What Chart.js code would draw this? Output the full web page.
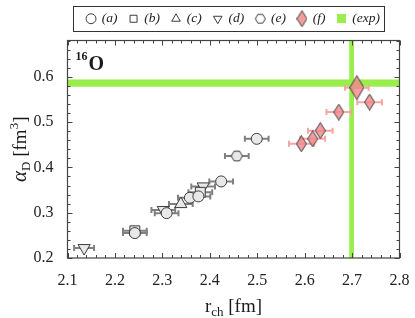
<!DOCTYPE html>
<html>
<head>
<meta charset="utf-8">
<script src="https://cdn.jsdelivr.net/npm/chart.js@4.4.1/dist/chart.umd.min.js"></script>
<style>
  html, body { margin: 0; padding: 0; background: #fff; }
  #wrap { width: 415px; height: 318px; }
</style>
</head>
<body>
<div id="wrap"><canvas id="chart" width="415" height="318"></canvas></div>
<script>
// values (r_ch in fm, alpha_D in fm^3)
const aR = [2.242, 2.309, 2.358, 2.376, 2.424, 2.499];
const aAlpha = [0.255, 0.299, 0.333, 0.336, 0.369, 0.463];
const aErr = [0.025, 0.025, 0.025, 0.025, 0.025, 0.025];

const bR = [2.242, 2.380];
const bAlpha = [0.260, 0.345];
const bErr = [0.025, 0.025];

const cR = [2.339];
const cAlpha = [0.319];
const cErr = [0.025];

const dR = [2.135, 2.302, 2.386];
const dAlpha = [0.222, 0.306, 0.358];
const dErr = [0.021, 0.025, 0.025];

const eR = [2.457];
const eAlpha = [0.425];
const eErr = [0.025];

const fR = [2.593, 2.617, 2.633, 2.672, 2.710, 2.737];
const fAlpha = [0.452, 0.463, 0.481, 0.522, 0.576, 0.544];
const fErr = [0.026, 0.026, 0.026, 0.026, 0.025, 0.026];

// experiment: value and half width of the band
const expR = [2.699];
const expRErr = [0.005];
const expAlpha = [0.586];
const expAlphaErr = [0.008];

const xTicks = [2.1, 2.2, 2.3, 2.4, 2.5, 2.6, 2.7, 2.8];
const yTicks = [0.2, 0.3, 0.4, 0.5, 0.6];

const seriesLabels = ['(a)', '(b)', '(c)', '(d)', '(e)', '(f)', '(exp)'];

const GREY_FILL = '#e8e8e8';
const EDGE = '#3c3c3c';
const GREY_BAR = '#808080';
const PINK_BAR = '#f6a4a4';
const GREEN = '#99ee4c';
const SERIF = "'Liberation Serif', 'DejaVu Serif', serif";

function toPoints(xs, ys) {
    return xs.map((x, i) => ({x: x, y: ys[i]}));
}

// small canvases used as point styles
function makeMarker(w, h, draw) {
    const c = document.createElement('canvas');
    c.width = w;
    c.height = h;
    draw(c.getContext('2d'), w, h);
    return c;
}

function diamond(w, h) {
    return makeMarker(w, h, (g, W, H) => {
        g.beginPath();
        g.moveTo(W / 2, 0.5);
        g.lineTo(W - 0.5, H / 2);
        g.lineTo(W / 2, H - 0.5);
        g.lineTo(0.5, H / 2);
        g.closePath();
        g.fillStyle = 'rgba(240,135,135,0.8)';
        g.fill();
        g.strokeStyle = EDGE;
        g.lineWidth = 1;
        g.stroke();
    });
}

function hexagon(fill, r) {
    return makeMarker(13, 12, (g, W, H) => {
        const cx = W / 2, cy = H / 2;
        g.beginPath();
        for (let k = 0; k < 6; k++) {
            const ang = Math.PI / 3 * k;
            const px = cx + r * Math.cos(ang), py = cy + r * Math.sin(ang);
            if (k === 0) g.moveTo(px, py); else g.lineTo(px, py);
        }
        g.closePath();
        g.fillStyle = fill;
        g.fill();
        g.strokeStyle = EDGE;
        g.lineWidth = 1;
        g.stroke();
    });
}

const smallDiamond = diamond(11, 17);
const bigDiamond = diamond(15, 25);
const hexMarker = hexagon(GREY_FILL, 5.6);
const hexLegend = hexagon('#ffffff', 5);

const greenSquare = makeMarker(9, 9, (g, W, H) => {
    g.fillStyle = GREEN;
    g.fillRect(0, 0, W, H);
});

function greySeries(label, xs, ys, errs, style, radius, rotation) {
    return {
        label: label,
        data: toPoints(xs, ys),
        xErr: errs,
        errColor: GREY_BAR,
        pointStyle: style,
        pointRadius: radius,
        pointRotation: rotation || 0,
        backgroundColor: GREY_FILL,
        borderColor: EDGE,
        borderWidth: 1
    };
}

const datasets = [
    greySeries(seriesLabels[0], aR, aAlpha, aErr, 'circle', 5.5),
    greySeries(seriesLabels[1], bR, bAlpha, bErr, 'rect', 7),
    greySeries(seriesLabels[2], cR, cAlpha, cErr, 'triangle', 7),
    greySeries(seriesLabels[3], dR, dAlpha, dErr, 'triangle', 7, 180),
    greySeries(seriesLabels[4], eR, eAlpha, eErr, hexMarker, 6),
    {
        label: seriesLabels[5],
        data: toPoints(fR, fAlpha),
        xErr: fErr,
        errColor: PINK_BAR,
        pointStyle: fR.map((r, i) => i === 4 ? bigDiamond : smallDiamond),
        backgroundColor: 'rgba(240,135,135,0.8)',
        borderColor: EDGE,
        borderWidth: 1
    },
    {
        label: seriesLabels[6],
        data: [],
        pointStyle: greenSquare,
        backgroundColor: GREEN,
        borderColor: GREEN
    }
];

function drawTicks(ctx, a, x, y) {
    ctx.strokeStyle = '#444';
    ctx.lineWidth = 1;
    ctx.beginPath();
    // x ticks, every 0.02, long ones on the labels
    for (let i = 0; i <= 35; i++) {
        const v = xTicks[0] + i * 0.02;
        const px = Math.round(x.getPixelForValue(v)) + 0.5;
        const len = i % 5 === 0 ? 5 : 3;
        ctx.moveTo(px, a.bottom); ctx.lineTo(px, a.bottom - len);
        ctx.moveTo(px, a.top); ctx.lineTo(px, a.top + len);
    }
    for (let i = 0; i <= 24; i++) {
        const v = yTicks[0] + i * 0.02;
        const py = Math.round(y.getPixelForValue(v)) + 0.5;
        const len = i % 5 === 0 ? 5 : 3;
        ctx.moveTo(a.left, py); ctx.lineTo(a.left + len, py);
        ctx.moveTo(a.right, py); ctx.lineTo(a.right - len, py);
    }
    ctx.stroke();
}

// pieces of text with sub/superscripts: [text, font, dy]
function drawPieces(ctx, pieces, cx, baseline) {
    let total = 0;
    pieces.forEach(p => { ctx.font = p[1]; total += ctx.measureText(p[0]).width; });
    let cur = cx - total / 2;
    ctx.textAlign = 'left';
    ctx.textBaseline = 'alphabetic';
    pieces.forEach(p => {
        ctx.font = p[1];
        ctx.fillText(p[0], cur, baseline + p[2]);
        cur += ctx.measureText(p[0]).width;
    });
}

const decorations = {
    id: 'decorations',
    beforeDatasetsDraw(chart) {
        const {ctx, chartArea: a, scales: {x, y}} = chart;
        ctx.save();
        ctx.beginPath();
        ctx.rect(a.left, a.top, a.width, a.height);
        ctx.clip();
        // experimental bands
        ctx.fillStyle = GREEN;
        const yTop = y.getPixelForValue(expAlpha[0] + expAlphaErr[0]);
        const yBot = y.getPixelForValue(expAlpha[0] - expAlphaErr[0]);
        ctx.fillRect(a.left, yTop, a.width, yBot - yTop);
        const xL = x.getPixelForValue(expR[0] - expRErr[0]);
        const xR = x.getPixelForValue(expR[0] + expRErr[0]);
        ctx.fillRect(xL, a.top, xR - xL, a.height);
        // horizontal error bars
        ctx.lineWidth = 2;
        chart.data.datasets.forEach(ds => {
            if (!ds.xErr) return;
            ctx.strokeStyle = ds.errColor;
            ds.data.forEach((p, i) => {
                const x0 = x.getPixelForValue(p.x - ds.xErr[i]);
                const x1 = x.getPixelForValue(p.x + ds.xErr[i]);
                const py = y.getPixelForValue(p.y);
                ctx.beginPath();
                ctx.moveTo(x0, py); ctx.lineTo(x1, py);
                ctx.moveTo(x0, py - 3); ctx.lineTo(x0, py + 3);
                ctx.moveTo(x1, py - 3); ctx.lineTo(x1, py + 3);
                ctx.stroke();
            });
        });
        ctx.restore();
    },
    afterDraw(chart) {
        const {ctx, chartArea: a, scales: {x, y}} = chart;
        ctx.save();
        // frame + inward ticks
        ctx.strokeStyle = '#444';
        ctx.lineWidth = 1.2;
        ctx.strokeRect(a.left, a.top, a.width, a.height);
        drawTicks(ctx, a, x, y);

        // box around the legend
        const hb = chart.legend.legendHitBoxes;
        if (hb && hb.length) {
            const first = hb[0], last = hb[hb.length - 1];
            const cy = first.top + 6.5;
            ctx.strokeStyle = '#333';
            ctx.lineWidth = 1;
            ctx.strokeRect(Math.round(first.left - 14) + 0.5, Math.round(cy - 13) + 0.5,
                Math.round(last.left + last.width + 4 - (first.left - 14)), 25);
        }

        ctx.fillStyle = '#1a1a1a';
        // nucleus label
        const big = 'bold 20px ' + SERIF;
        const sup = 'bold 12px ' + SERIF;
        ctx.textAlign = 'left';
        ctx.textBaseline = 'alphabetic';
        ctx.font = sup;
        ctx.fillText('16', a.left + 8, a.top + 19);
        const w16 = ctx.measureText('16').width;
        ctx.font = big;
        ctx.fillText('O', a.left + 9 + w16, a.top + 29);

        // x title
        const f = '19px ' + SERIF;
        const fs = '13px ' + SERIF;
        drawPieces(ctx, [['r', f, 0], ['ch', fs, 4], [' [fm]', f, 0]], (a.left + a.right) / 2, 312);

        // y title, rotated
        ctx.translate(26, (a.top + a.bottom) / 2);
        ctx.rotate(-Math.PI / 2);
        drawPieces(ctx, [['\u03b1', 'italic 21px ' + SERIF, 0], ['D', fs, 4],
            [' [fm', f, 0], ['3', fs, -8], [']', f, 0]], 0, 0);
        ctx.restore();
    }
};

new Chart(document.getElementById('chart'), {
    type: 'scatter',
    data: { datasets: datasets },
    options: {
        responsive: false,
        animation: false,
        devicePixelRatio: 1,
        layout: { padding: { left: 0, right: 15.5, top: 0, bottom: 0 } },
        plugins: {
            tooltip: { enabled: false },
            legend: {
                position: 'top',
                fullSize: false,
                labels: {
                    usePointStyle: true,
                    boxWidth: 8,
                    boxHeight: 7,
                    padding: 12,
                    color: '#222',
                    font: { family: SERIF, style: 'italic', size: 13.5 },
                    // open (white) symbols in the legend
                    generateLabels: chart => {
                        const items = Chart.defaults.plugins.legend.labels.generateLabels(chart);
                        items.forEach((it, i) => {
                            if (i < 5) it.fillStyle = '#ffffff';
                            if (i === 4) it.pointStyle = hexLegend;
                        });
                        return items;
                    }
                }
            }
        },
        scales: {
            x: {
                type: 'linear',
                position: 'bottom',
                min: xTicks[0],
                max: xTicks[xTicks.length - 1],
                afterBuildTicks: s => { s.ticks = xTicks.map(v => ({value: v})); },
                afterFit: s => { s.height = 60; },
                grid: { display: false },
                border: { display: false },
                ticks: {
                    padding: 5,
                    color: '#222',
                    font: { family: SERIF, size: 16 },
                    callback: v => v.toFixed(1)
                }
            },
            x2: {
                type: 'linear',
                position: 'top',
                min: xTicks[0],
                max: xTicks[xTicks.length - 1],
                afterFit: s => { s.height = 5; },
                grid: { display: false },
                border: { display: false },
                ticks: { display: false }
            },
            y: {
                type: 'linear',
                min: yTicks[0],
                max: 0.68,
                afterBuildTicks: s => { s.ticks = yTicks.map(v => ({value: v})); },
                afterFit: s => { s.width = 67.5; },
                grid: { display: false },
                border: { display: false },
                ticks: {
                    padding: 6,
                    color: '#222',
                    font: { family: SERIF, size: 16 },
                    callback: v => v.toFixed(1)
                }
            }
        }
    },
    plugins: [decorations]
});
</script>
</body>
</html>
